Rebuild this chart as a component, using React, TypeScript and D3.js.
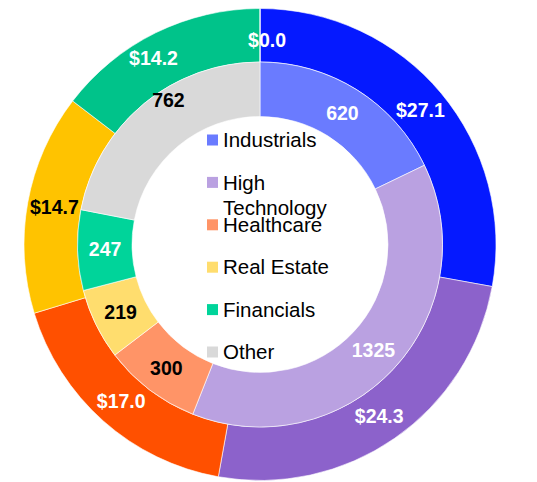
import React from 'react';
import * as d3 from 'd3';

const categories = ['Industrials', 'High Technology', 'Healthcare', 'Real Estate', 'Financials', 'Other'];
const outerValues = [27.1, 24.3, 17.0, 14.7, 14.2, 0.0];
const innerValues = [620, 1325, 300, 219, 247, 762];
const outerColors = ['#0519ff', '#8c62cb', '#ff5000', '#ffc300', '#00c38a', '#d9d9d9'];
const innerColors = ['#6a7bff', '#baa1e1', '#ff9467', '#ffdd6e', '#00d49a', '#d9d9d9'];
const outerLabelColors = ['#fff', '#fff', '#fff', '#000', '#fff', '#fff'];
const innerLabelColors = ['#fff', '#fff', '#000', '#000', '#fff', '#000'];

const width = 537;
const height = 482;

const App = () => {
  const cx = 260;
  const cy = 244.5;
  const rOuter = 236;
  const rMid = 182.5;
  const rHole = 128;

  const pie = d3.pie<number>().sort(null).value(d => d);
  const outerArcs = pie(outerValues);
  const innerArcs = pie(innerValues);

  const outerArc = d3.arc<d3.PieArcDatum<number>>().innerRadius(rMid).outerRadius(rOuter);
  const innerArc = d3.arc<d3.PieArcDatum<number>>().innerRadius(rHole).outerRadius(rMid);
  const outerLabelArc = d3.arc<d3.PieArcDatum<number>>().innerRadius(209).outerRadius(209);
  const innerLabelArc = d3.arc<d3.PieArcDatum<number>>().innerRadius(155).outerRadius(155);

  // small nudges where labels would collide
  const outerNudge: Record<number, [number, number]> = { 4: [-14, 1], 5: [7, 5] };
  const innerNudge: Record<number, [number, number]> = { 5: [7, -25] };

  const font = 'Liberation Sans, Arial, sans-serif';
  const legendY = d3.scaleLinear().domain([0, categories.length - 1]).range([140, 352]);

  return (
    <svg width={width} height={height} style={{ position: 'absolute', left: 0, top: 0 }}>
      <rect width={width} height={height} fill="#fff" />
      <g transform={`translate(${cx},${cy})`}>
        {outerArcs.map((a, i) => (
          <path key={'o' + i} d={outerArc(a) || ''} fill={outerColors[i]} stroke="#fff" strokeWidth={0.6} />
        ))}
        {innerArcs.map((a, i) => (
          <path key={'i' + i} d={innerArc(a) || ''} fill={innerColors[i]} stroke="#fff" strokeWidth={0.6} />
        ))}
        {outerArcs.map((a, i) => {
          const [x, y] = outerLabelArc.centroid(a);
          const [nx, ny] = outerNudge[i] || [0, 0];
          return (
            <text key={'ol' + i} x={x + nx} y={y + ny} dy="0.35em" textAnchor="middle"
              fontFamily={font} fontWeight="bold" fontSize={19.5} fill={outerLabelColors[i]}>
              {'$' + outerValues[i].toFixed(1)}
            </text>
          );
        })}
        {innerArcs.map((a, i) => {
          const [x, y] = innerLabelArc.centroid(a);
          const [nx, ny] = innerNudge[i] || [0, 0];
          return (
            <text key={'il' + i} x={x + nx} y={y + ny} dy="0.35em" textAnchor="middle"
              fontFamily={font} fontWeight="bold" fontSize={19.5} fill={innerLabelColors[i]}>
              {innerValues[i]}
            </text>
          );
        })}
      </g>
      <g>
        {categories.map((c, i) => {
          const y = legendY(i);
          const lines = c.length > 12 ? c.split(' ') : [c];
          return (
            <g key={'lg' + i}>
              <rect x={207} y={y - 5.5} width={11} height={11} fill={innerColors[i]} />
              <text x={223} y={y} fontFamily={font} fontSize={20.5} fill="#000">
                {lines.map((l, j) => (
                  <tspan key={j} x={223} dy={j === 0 ? '0.35em' : 25}>{l}</tspan>
                ))}
              </text>
            </g>
          );
        })}
      </g>
    </svg>
  );
};

export default App;
